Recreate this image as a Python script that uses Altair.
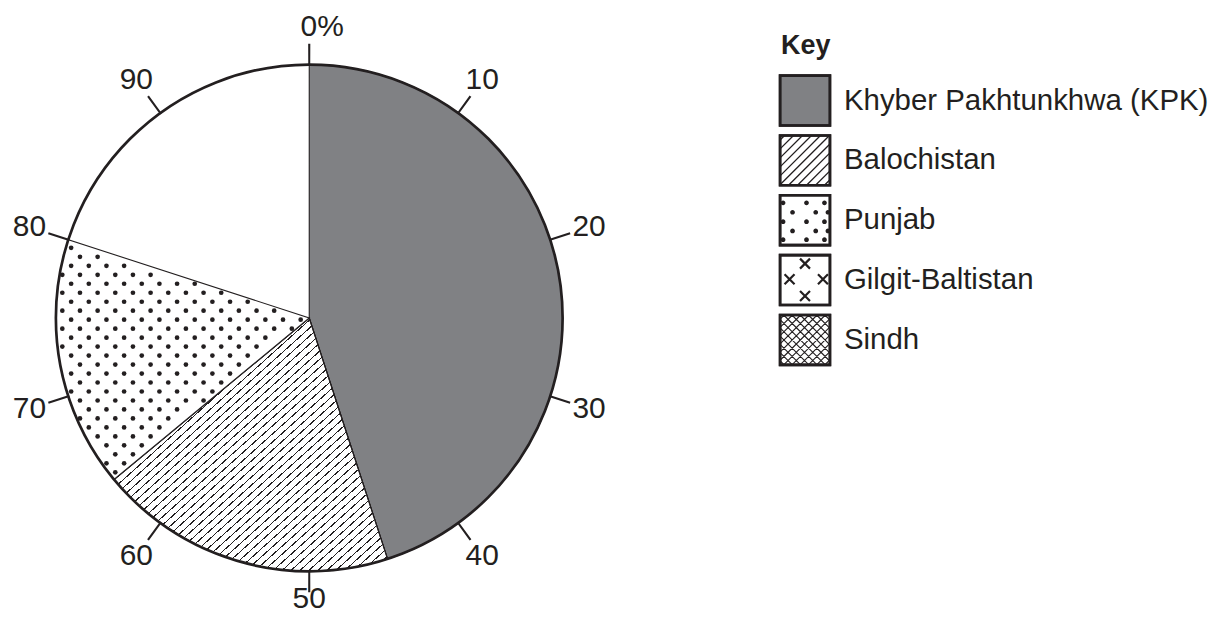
import math
import altair as alt
import pandas as pd

# ---------------- data ----------------
pie_regions = ["Khyber Pakhtunkhwa (KPK)", "Balochistan", "Punjab"]
pie_values = [45, 19, 16]          # percent; the last 20 % is left blank
key_regions = ["Khyber Pakhtunkhwa (KPK)", "Balochistan", "Punjab",
               "Gilgit-Baltistan", "Sindh"]
tick_values = [0, 10, 20, 30, 40, 50, 60, 70, 80, 90]
tick_labels = ["0%", "10", "20", "30", "40", "50", "60", "70", "80", "90"]

# ---------------- style ----------------
INK = "#231f20"
GREY = "#808184"
FONT = "Liberation Sans"
CX, CY = 302, 310      # pie centre inside the pie panel
R = 254                # pie radius
PIE_W, PIE_H = 604, 604
KEY_W, KEY_H = 589, 604
CLEAR = "rgba(255,255,255,0)"

pie_df = pd.DataFrame({"region": pie_regions, "value": pie_values})
pie_df["end"] = pie_df["value"].cumsum()
pie_df["start"] = pie_df["end"] - pie_df["value"]
tick_df = pd.DataFrame({"v": tick_values, "label": tick_labels})
key_df = pd.DataFrame({"region": key_regions})

theta_scale = alt.Scale(domain=[0, 100], range=[0, 2 * math.pi])


def hatch_gradient(n, frac, x2, y2):
    stops = []
    for k in range(n):
        a = k / n
        b = (k + frac) / n
        stops += [
            {"offset": a, "color": INK},
            {"offset": b, "color": INK},
            {"offset": b, "color": CLEAR},
            {"offset": (k + 1) / n, "color": CLEAR},
        ]
    return {"gradient": "linear", "x1": 0, "y1": 0, "x2": x2, "y2": y2,
            "stops": stops}


def wedge(region, fill):
    return alt.Chart(pie_df).transform_filter(
        alt.datum.region == region
    ).mark_arc(radius=R, fill=fill, stroke=INK, strokeWidth=1.1,
               opacity=1).encode(
        theta=alt.Theta("start:Q", scale=theta_scale, stack=None),
        theta2="end:Q",
        x=alt.value(CX), y=alt.value(CY),
    )


kpk = wedge(pie_regions[0], GREY)
bal_white = wedge(pie_regions[1], "white")
bal = wedge(pie_regions[1], hatch_gradient(62, 0.17, 0.986, 1.014))
pun = wedge(pie_regions[2], "white")

# dotted texture inside the Punjab slice
p_start = float(pie_df["start"].iloc[2])
p_end = float(pie_df["end"].iloc[2])
a1 = 2 * math.pi * p_start / 100
a2 = 2 * math.pi * p_end / 100
dots = alt.Chart(alt.sequence(0, 480, as_="k")).transform_calculate(
    row="floor(datum.k / 16)"
).transform_calculate(
    col="datum.k % 16"
).transform_calculate(
    dx="-274.1 + 17.7 * datum.col + (datum.row % 2) * 8.85"
).transform_calculate(
    dy="-88.3 + 9 * datum.row"
).transform_calculate(
    rr="sqrt(datum.dx * datum.dx + datum.dy * datum.dy)"
).transform_calculate(
    pct="(atan2(datum.dx, -datum.dy) / (2 * PI) * 100 + 100) % 100"
).transform_calculate(
    d1=f"abs(datum.dx * {math.cos(a1)} + datum.dy * {math.sin(a1)})"
).transform_calculate(
    d2=f"abs(datum.dx * {math.cos(a2)} + datum.dy * {math.sin(a2)})"
).transform_filter(
    f"datum.pct > {p_start} && datum.pct < {p_end} && datum.rr < {R - 2.5}"
    " && datum.d1 > 2.8 && datum.d2 > 2.8"
).transform_calculate(
    px=f"{CX} + datum.dx"
).transform_calculate(
    py=f"{CY} + datum.dy"
).mark_circle(size=22, color=INK, opacity=1).encode(
    x=alt.X("px:Q", scale=None, axis=None),
    y=alt.Y("py:Q", scale=None, axis=None),
)

circle = alt.Chart(pd.DataFrame({"a": [0], "b": [100]})).mark_arc(
    radius=R, fillOpacity=0, stroke=INK, strokeWidth=2.7
).encode(
    theta=alt.Theta("a:Q", scale=theta_scale, stack=None),
    theta2="b:Q",
    x=alt.value(CX), y=alt.value(CY),
)

ticks = alt.Chart(tick_df).transform_calculate(
    t0="datum.v - 0.062", t1="datum.v + 0.062"
).mark_arc(radius=R + 21, radius2=R - 1, fill=INK, opacity=1).encode(
    theta=alt.Theta("t0:Q", scale=theta_scale, stack=None),
    theta2="t1:Q",
    x=alt.value(CX), y=alt.value(CY),
)

label_kw = dict(font=FONT, fontSize=30, color=INK,
                align="center", baseline="middle")


def label_layer(cond, radius, **extra):
    return alt.Chart(tick_df).transform_filter(cond).mark_text(
        radius=radius, **label_kw, **extra
    ).encode(
        theta=alt.Theta("v:Q", scale=theta_scale, stack=None),
        text="label:N",
        x=alt.value(CX), y=alt.value(CY),
    )


labels = label_layer("datum.v > 0 && datum.v != 50", 295)
label50 = label_layer("datum.v == 50", 282)
label0 = label_layer("datum.v == 0", 292, dx=13)

pie = alt.layer(kpk, bal_white, bal, pun, dots, circle, ticks, labels,
                label50, label0).properties(width=PIE_W, height=PIE_H)

# ---------------- key ----------------
SQ = 50 * 50
SQ_X = 195
TXT_X = 234
y_enc = alt.Y("region:N", sort=key_regions,
              scale=alt.Scale(domain=key_regions, range=[62, 362]),
              axis=None)


def fmt(v):
    return f"{v:.3f}"


def diag_lines(step, direction):
    parts = []
    c = -2 + step / 2
    while c < 2:
        if direction == "/":
            if c <= 0:
                p, q = (-1, c + 1), (c + 1, -1)
            else:
                p, q = (c - 1, 1), (1, c - 1)
        else:
            if c <= 0:
                p, q = (-1, -1 - c), (1 + c, 1)
            else:
                p, q = (-1 + c, -1), (1, 1 - c)
        parts.append(f"M{fmt(p[0])},{fmt(p[1])}L{fmt(q[0])},{fmt(q[1])}")
        c += step
    return "".join(parts)


def dot_path(points, r):
    out = []
    for x, y in points:
        out.append(f"M{fmt(x - r)},{fmt(y)}a{fmt(r)},{fmt(r)} 0 1,0 {fmt(2 * r)},0"
                   f"a{fmt(r)},{fmt(r)} 0 1,0 {fmt(-2 * r)},0Z")
    return "".join(out)


def cross_path(points, h):
    out = []
    for x, y in points:
        out.append(f"M{fmt(x - h)},{fmt(y - h)}L{fmt(x + h)},{fmt(y + h)}"
                   f"M{fmt(x - h)},{fmt(y + h)}L{fmt(x + h)},{fmt(y - h)}")
    return "".join(out)


dot_rows = [-0.7, -0.32, 0.06, 0.43, 0.78]
dot_pts = []
for i, yy in enumerate(dot_rows):
    xs = [-0.88, 0.06, 0.78] if i % 2 == 0 else [-0.5, 0.43, 0.92]
    dot_pts += [(x, yy) for x in xs]
cross_pts = [(0.0, -0.66), (-0.62, -0.03), (0.72, -0.03), (0.0, 0.64)]


def key_layer(region, mark):
    return alt.Chart(key_df).transform_filter(
        alt.datum.region == region
    ).mark_point(**mark).encode(x=alt.value(SQ_X), y=y_enc)


key_fill = alt.Chart(key_df).mark_square(
    size=SQ, stroke=INK, strokeWidth=2.6, opacity=1
).encode(
    x=alt.value(SQ_X), y=y_enc,
    fill=alt.condition(alt.datum.region == key_regions[0],
                       alt.value(GREY), alt.value("white")),
)
pat_bal = key_layer(key_regions[1], dict(
    shape=diag_lines(0.36, "/"), size=SQ, filled=False, stroke=INK,
    strokeWidth=1.3, opacity=1))
pat_pun = key_layer(key_regions[2], dict(
    shape=dot_path(dot_pts, 0.095), size=SQ, filled=True, fill=INK,
    strokeWidth=0, opacity=1))
pat_gb = key_layer(key_regions[3], dict(
    shape=cross_path(cross_pts, 0.2), size=SQ, filled=False, stroke=INK,
    strokeWidth=2.2, opacity=1))
pat_sindh = key_layer(key_regions[4], dict(
    shape=diag_lines(0.33, "/") + diag_lines(0.33, "\\"), size=SQ,
    filled=False, stroke=INK, strokeWidth=1.1, opacity=1))
key_border = alt.Chart(key_df).mark_square(
    size=SQ, fillOpacity=0, stroke=INK, strokeWidth=2.6
).encode(x=alt.value(SQ_X), y=y_enc)

key_text = alt.Chart(key_df).mark_text(
    align="left", baseline="middle", font=FONT, fontSize=29.5, color=INK
).encode(x=alt.value(TXT_X), y=y_enc, text="region:N")

key_title = alt.Chart(pd.DataFrame({"t": ["Key"]})).mark_text(
    align="left", baseline="alphabetic", font=FONT, fontSize=27,
    fontWeight="bold", color=INK
).encode(x=alt.value(171), y=alt.value(45), text="t:N")

key = alt.layer(key_fill, pat_bal, pat_pun, pat_gb, pat_sindh, key_border,
                key_text, key_title).properties(width=KEY_W, height=KEY_H)

chart = alt.hconcat(pie, key, spacing=0).properties(
    padding=0, background="white"
).configure_view(stroke=None)

chart.save("out.html", embed_options={"renderer": "svg", "actions": False})
